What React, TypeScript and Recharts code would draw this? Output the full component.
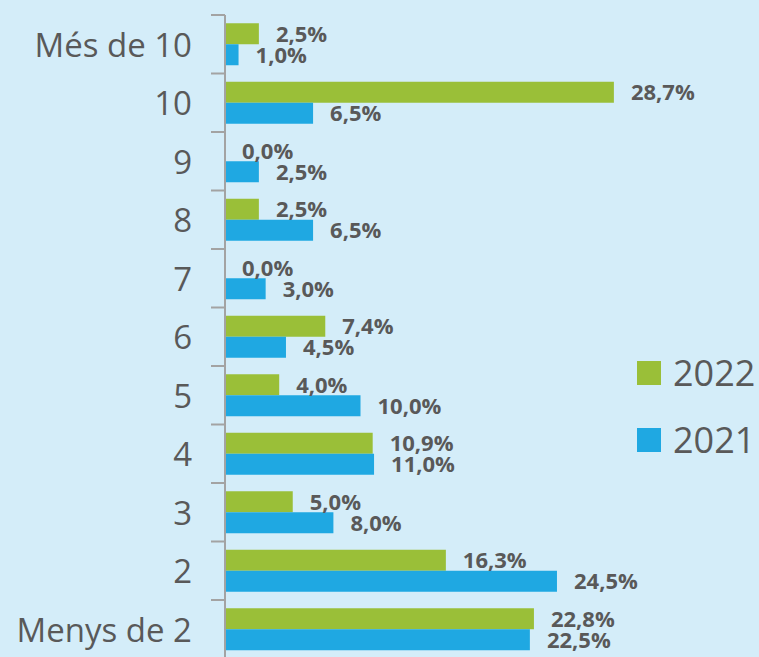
import React from 'react';
import { BarChart, Bar, XAxis, YAxis, LabelList } from 'recharts';

const categories = ['Més de 10', '10', '9', '8', '7', '6', '5', '4', '3', '2', 'Menys de 2'];
const values2022 = [2.5, 28.7, 0.0, 2.5, 0.0, 7.4, 4.0, 10.9, 5.0, 16.3, 22.8];
const values2021 = [1.0, 6.5, 2.5, 6.5, 3.0, 4.5, 10.0, 11.0, 8.0, 24.5, 22.5];
const seriesNames = ['2022', '2021'];

const data = categories.map((c, i) => ({ cat: c, v2022: values2022[i], v2021: values2021[i] }));

const W = 759;
const H = 670;
const MT = 15;
const MB = 11.5;
const AXIS_X = 225;
const BAND = (H - MT - MB) / categories.length;

const GREEN = '#9abf38';
const BLUE = '#1fa8e2';
const TEXT = '#595959';
const AXIS = '#a3a3a3';
const COLORS = [GREEN, BLUE];

const fmt = (v: number) => v.toFixed(1).replace('.', ',') + '%';

const Tick = (props: any) => {
  const { y, payload } = props;
  return (
    <g>
      <line x1={AXIS_X - 14} x2={AXIS_X} y1={y - BAND / 2} y2={y - BAND / 2} stroke={AXIS} strokeWidth={2} />
      <text x={AXIS_X - 33} y={y} textAnchor="end" dominantBaseline="central" fill={TEXT}
        style={{ fontFamily: 'Open Sans', fontSize: 33 }}>
        {payload.value}
      </text>
    </g>
  );
};

const labelStyle = { fontFamily: 'Open Sans', fontSize: 22, fontWeight: 700, fill: TEXT };

export default function App() {
  return (
    <div style={{ position: 'absolute', left: 0, top: 0, width: W, height: 657, overflow: 'hidden', background: '#d4edf9' }}>
      <BarChart
        width={W}
        height={H}
        data={data}
        layout="vertical"
        margin={{ top: MT, right: W - AXIS_X - 406.5, bottom: MB, left: 0 }}
        barCategoryGap={8.25}
        barGap={0}
      >
        <XAxis type="number" domain={[0, 30]} hide />
        <YAxis
          type="category"
          dataKey="cat"
          width={AXIS_X}
          axisLine={{ stroke: AXIS, strokeWidth: 2 }}
          tickLine={false}
          tick={<Tick />}
          interval={0}
        />
        <Bar dataKey="v2022" name={seriesNames[0]} fill={GREEN} isAnimationActive={false} minPointSize={0.01}>
          <LabelList dataKey="v2022" position="right" offset={17} formatter={fmt as any} style={labelStyle} />
        </Bar>
        <Bar dataKey="v2021" name={seriesNames[1]} fill={BLUE} isAnimationActive={false} minPointSize={0.01}>
          <LabelList dataKey="v2021" position="right" offset={17} formatter={fmt as any} style={labelStyle} />
        </Bar>
      </BarChart>
      <div style={{ position: 'absolute', left: 637, top: 339 }}>
        {seriesNames.map((n, i) => (
          <div key={n} style={{ display: 'flex', alignItems: 'center', height: 67.5 }}>
            <div style={{ width: 24, height: 24, background: COLORS[i], marginRight: 12 }} />
            <span style={{ fontFamily: 'Open Sans', fontSize: 36, color: TEXT, lineHeight: 1 }}>{n}</span>
          </div>
        ))}
      </div>
    </div>
  );
}
